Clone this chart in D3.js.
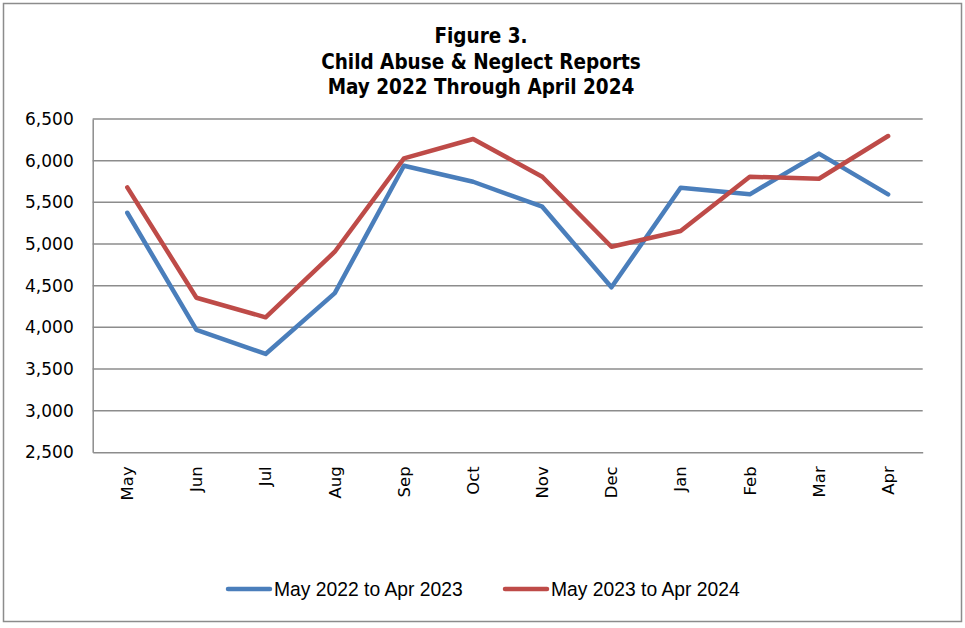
<!DOCTYPE html>
<html><head><meta charset="utf-8">
<script src="https://cdn.jsdelivr.net/npm/d3@7"></script>
<style>
body{margin:0;background:#fff;}
svg{display:block;}
</style></head>
<body><svg id="c" width="965" height="628"></svg>
<script>
const months = ["May","Jun","Jul","Aug","Sep","Oct","Nov","Dec","Jan","Feb","Mar","Apr"];
const series1Name = "May 2022 to Apr 2023";
const series2Name = "May 2023 to Apr 2024";
const series1 = [5375, 3968, 3680, 4410, 5939, 5747, 5447, 4480, 5675, 5596, 6085, 5596];
const series2 = [5680, 4355, 4120, 4907, 6028, 6260, 5807, 4967, 5156, 5807, 5783, 6296];
const yTicks = [2500, 3000, 3500, 4000, 4500, 5000, 5500, 6000, 6500];
const titleLines = ["Figure 3.", "Child Abuse & Neglect Reports", "May 2022 Through April 2024"];

const svg = d3.select("#c");
const m = {left: 92.7, right: 922.7, top: 119, bottom: 452.3};

svg.append("rect").attr("x",3.5).attr("y",3.5).attr("width",958).attr("height",618)
  .attr("fill","#fff").attr("stroke","#8c8c8c").attr("stroke-width",1.5);

const x = d3.scaleBand().domain(months).range([m.left, m.right]);
const y = d3.scaleLinear().domain([2500, 6500]).range([m.bottom, m.top]);

// title
const title = svg.append("g");
titleLines.forEach((t,i)=>{
  title.append("text").attr("x",481).attr("y",43 + i*25.5)
    .attr("text-anchor","middle")
    .attr("font-family","'DejaVu Sans Condensed', 'DejaVu Sans', sans-serif")
    .attr("font-weight","bold").attr("font-size",20.5)
    .attr("fill","#000").text(t);
});

// gridlines
svg.append("g").selectAll("line").data(yTicks.slice(1)).join("line")
  .attr("x1",m.left).attr("x2",m.right)
  .attr("y1",d=>y(d)).attr("y2",d=>y(d))
  .attr("stroke","#8c8c8c").attr("stroke-width",1.5);

// y axis
const yAxis = d3.axisLeft(y).tickValues(yTicks).tickSize(0).tickPadding(0)
  .tickFormat(d3.format(","));
const gy = svg.append("g").attr("transform",`translate(${m.left},0)`).call(yAxis);
gy.select(".domain").attr("stroke","#8c8c8c").attr("stroke-width",1.5);
gy.selectAll("text").attr("x",-19).attr("font-family","'DejaVu Sans', sans-serif")
  .attr("font-size",17).attr("fill","#000");

// x axis
const xAxis = d3.axisBottom(x).tickSize(0).tickPadding(0);
const gx = svg.append("g").attr("transform",`translate(0,${m.bottom})`).call(xAxis);
gx.select(".domain").attr("stroke","#8c8c8c").attr("stroke-width",1.5);
gx.selectAll("text")
  .attr("font-family","'DejaVu Sans', sans-serif").attr("font-size",16.5).attr("fill","#000")
  .attr("text-anchor","end").attr("dy","0.35em")
  .attr("transform","translate(0,14) rotate(-90)")
  .attr("x",0).attr("y",0);

// lines
const line = d3.line().x((d,i)=>x(months[i]) + x.bandwidth()/2).y(d=>y(d));
const colors = ["#4a7ebb", "#be4b48"];
[series1, series2].forEach((s,k)=>{
  svg.append("path").datum(s).attr("d",line).attr("fill","none")
    .attr("stroke",colors[k]).attr("stroke-width",4.5)
    .attr("stroke-linejoin","round").attr("stroke-linecap","round");
});

// legend
const legend = [
  {name: series1Name, color: colors[0], x: 228},
  {name: series2Name, color: colors[1], x: 505}
];
legend.forEach(l=>{
  svg.append("line").attr("x1",l.x).attr("x2",l.x+42).attr("y1",589).attr("y2",589)
    .attr("stroke",l.color).attr("stroke-width",4.5).attr("stroke-linecap","round");
  svg.append("text").attr("x",l.x+46).attr("y",595.5)
    .attr("font-family","'Liberation Sans', Arial, sans-serif").attr("font-size",19.3)
    .attr("fill","#000").text(l.name);
});
</script></body></html>
